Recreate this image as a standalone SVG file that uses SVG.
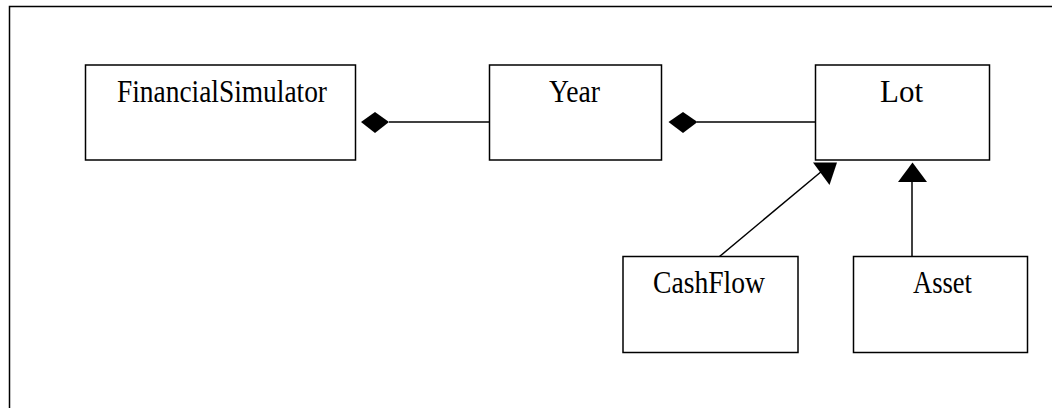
<svg xmlns="http://www.w3.org/2000/svg" width="1052" height="408" viewBox="0 0 1052 408">
<style>
.box{fill:#fff;stroke:#000;stroke-width:1.5}
.lbl{font-family:"Liberation Serif","Times New Roman",serif;font-size:31px;fill:#000}
.ln{stroke:#000;stroke-width:1.5;fill:none}
.head{fill:#000;stroke:none}
</style>
<rect width="1052" height="408" fill="#fff"/>
<path class="ln" d="M9.5,408 V6.5 H1052" stroke-width="2"/>
<g id="FinancialSimulator">
<rect class="box" x="85.5" y="65" width="270" height="95"/>
<text class="lbl" x="117" y="102" textLength="210" lengthAdjust="spacingAndGlyphs">FinancialSimulator</text>
</g>
<g id="Year">
<rect class="box" x="489.5" y="65" width="172" height="95"/>
<text class="lbl" x="549" y="102" textLength="51" lengthAdjust="spacingAndGlyphs">Year</text>
</g>
<g id="Lot">
<rect class="box" x="815.5" y="65" width="174" height="95"/>
<text class="lbl" x="880" y="102" textLength="43" lengthAdjust="spacingAndGlyphs">Lot</text>
</g>
<g id="CashFlow">
<rect class="box" x="623" y="256.5" width="175" height="96"/>
<text class="lbl" x="653" y="293" textLength="112" lengthAdjust="spacingAndGlyphs">CashFlow</text>
</g>
<g id="Asset">
<rect class="box" x="853.5" y="256.5" width="174" height="96"/>
<text class="lbl" x="913" y="293" textLength="59" lengthAdjust="spacingAndGlyphs">Asset</text>
</g>
<g id="connectors">
<line class="ln" x1="389" y1="122" x2="489.5" y2="122"/>
<polygon class="head" points="361,122 375,112 389,122 375,133"/>
<line class="ln" x1="697" y1="122" x2="815.5" y2="122"/>
<polygon class="head" points="668.5,122 683,112 697.5,122 683,133"/>
<line class="ln" x1="719.5" y1="256.5" x2="822" y2="171"/>
<polygon class="head" points="813,162.5 837,162.5 829.5,185"/>
<line class="ln" x1="912" y1="181" x2="912" y2="256.5"/>
<polygon class="head" points="898,182 927,182 912.5,162.5"/>
</g>
</svg>
